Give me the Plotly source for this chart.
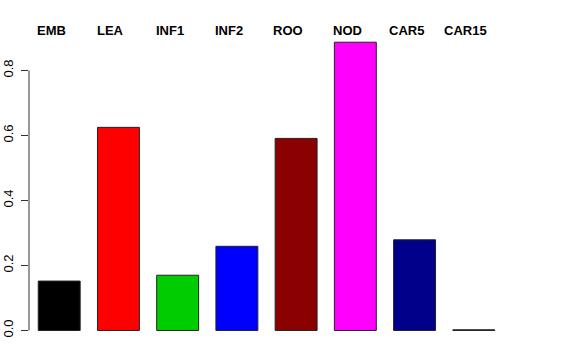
import plotly.graph_objects as go

categories = ["EMB", "LEA", "INF1", "INF2", "ROO", "NOD", "CAR5", "CAR15"]
values = [0.152, 0.625, 0.170, 0.259, 0.591, 0.887, 0.279, 0.002]
colors = ["#000000", "#FF0000", "#00CD00", "#0000FF", "#8B0000", "#FF00FF", "#00008B", "#006400"]
y_ticks = [0.0, 0.2, 0.4, 0.6, 0.8]
y_ticklabels = ["0.0", "0.2", "0.4", "0.6", "0.8"]

FONT = "Liberation Sans, Arial, Helvetica, sans-serif"

x_idx = list(range(len(categories)))

fig = go.Figure()
fig.add_trace(go.Bar(
    x=x_idx, y=values,
    marker=dict(color=colors, line=dict(color="#222222", width=1)),
    hoverinfo="skip",
))

for i, c in zip(x_idx, categories):
    fig.add_annotation(
        x=i, xref="x", y=1, yref="paper", yanchor="middle", yshift=1,
        xshift=-8, text="<b>" + c + "</b>", showarrow=False,
        font=dict(family=FONT, size=13, color="#000000"),
    )

# R-style axis line spanning the tick range only
fig.add_shape(type="line", xref="paper", yref="y", x0=0, x1=0,
              y0=y_ticks[0], y1=y_ticks[-1], line=dict(color="#333333", width=1))

fig.update_layout(
    width=576, height=360,
    margin=dict(l=29, r=72, t=31, b=18, autoexpand=False),
    paper_bgcolor="white", plot_bgcolor="white",
    bargap=0.292,
    showlegend=False,
    font=dict(family=FONT, size=12, color="#000000"),
)
fig.update_xaxes(range=[-0.51, 7.51], showgrid=False, zeroline=False,
                 showticklabels=False, ticks="", showline=False, automargin=False)
fig.update_yaxes(range=[-0.0355, 0.9215], showgrid=False, zeroline=False,
                 showline=False, tickmode="array", tickvals=y_ticks,
                 ticktext=y_ticklabels, ticks="outside", ticklen=7,
                 tickcolor="#333333", tickangle=-90, automargin=False,
                 ticklabelstandoff=3,
                 tickfont=dict(family=FONT, size=13, color="#000000"))

fig.write_html("out.html", config={"displayModeBar": False},
               post_script="document.body.style.margin='0';document.body.style.overflow='hidden';")
